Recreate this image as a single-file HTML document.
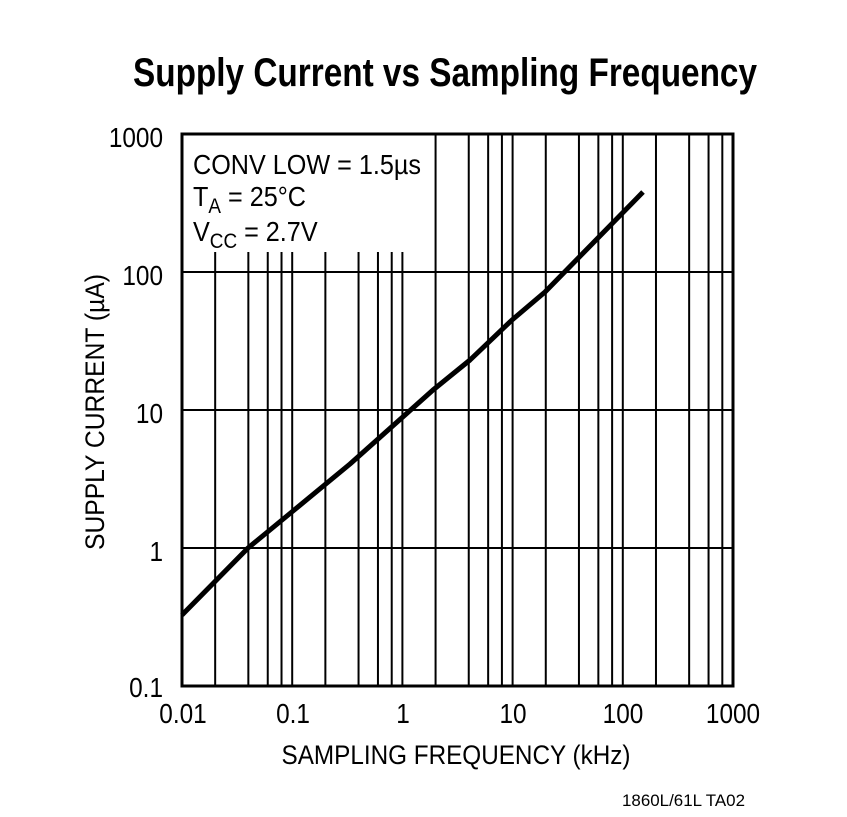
<!DOCTYPE html>
<html><head><meta charset="utf-8"><style>
html,body{margin:0;padding:0;background:#fff}
svg{display:block}
text{font-family:"Liberation Sans Narrow","Liberation Sans",sans-serif;fill:#000}
</style></head><body>
<svg width="847" height="817" viewBox="0 0 847 817" xmlns="http://www.w3.org/2000/svg">
<text x="133" y="86" font-size="40" font-weight="bold" textLength="624" lengthAdjust="spacingAndGlyphs">Supply Current vs Sampling Frequency</text>
<g stroke="#000" stroke-width="2" fill="none" id="grid"></g>
<script>
(function(){
var g=document.getElementById('grid');var ns='http://www.w3.org/2000/svg';
var L=182,R=733,T=134,B=686,dx=(R-L)/5,dy=(B-T)/4;
function ln(x1,y1,x2,y2){var e=document.createElementNS(ns,'line');e.setAttribute('x1',x1);e.setAttribute('y1',y1);e.setAttribute('x2',x2);e.setAttribute('y2',y2);g.appendChild(e);}
for(var d=0;d<5;d++){[1,2,4,6,8].forEach(function(m){if(m==1&&d==0)return;var x=L+dx*(d+Math.log10(m));ln(x,(x<430?252:T),x,B);});}
for(var k=1;k<4;k++){var y=T+dy*k;ln(L,y,R,y);}
})();
</script>
<rect x="182" y="134" width="551" height="552" fill="none" stroke="#000" stroke-width="3"/>
<polyline fill="none" stroke="#000" stroke-width="5" stroke-linejoin="round" points="182,615 248,548 293,511 350,464 405,415 433,390 470,360 512,320 545,292 643,192"/>
<g transform="translate(193,0) scale(0.9,1)">
<text x="0" y="174" font-size="28">CONV LOW = 1.5µs</text>
<text x="0" y="206" font-size="28">T<tspan font-size="21" dy="7">A</tspan><tspan dy="-7"> = 25°C</tspan></text>
<text x="0" y="241" font-size="28">V<tspan font-size="21" dy="7">CC</tspan><tspan dy="-7"> = 2.7V</tspan></text>
</g>
<g font-size="28" text-anchor="end">
<text transform="translate(163,147) scale(0.87,1)">1000</text>
<text transform="translate(163,285) scale(0.87,1)">100</text>
<text transform="translate(163,423) scale(0.87,1)">10</text>
<text transform="translate(163,561) scale(0.87,1)">1</text>
<text transform="translate(163,697) scale(0.87,1)">0.1</text>
</g>
<g font-size="28" text-anchor="middle">
<text transform="translate(183,723) scale(0.87,1)">0.01</text>
<text transform="translate(293,723) scale(0.87,1)">0.1</text>
<text transform="translate(403,723) scale(0.87,1)">1</text>
<text transform="translate(513,723) scale(0.87,1)">10</text>
<text transform="translate(623,723) scale(0.87,1)">100</text>
<text transform="translate(733,723) scale(0.87,1)">1000</text>
</g>
<text x="456" y="764" font-size="27" text-anchor="middle" textLength="349" lengthAdjust="spacingAndGlyphs">SAMPLING FREQUENCY (kHz)</text>
<text transform="translate(104,412) rotate(-90)" font-size="27" text-anchor="middle" textLength="276" lengthAdjust="spacingAndGlyphs">SUPPLY CURRENT (µA)</text>
<text x="622" y="806" font-size="17" textLength="123" lengthAdjust="spacingAndGlyphs">1860L/61L TA02</text>
</svg>
</body></html>
